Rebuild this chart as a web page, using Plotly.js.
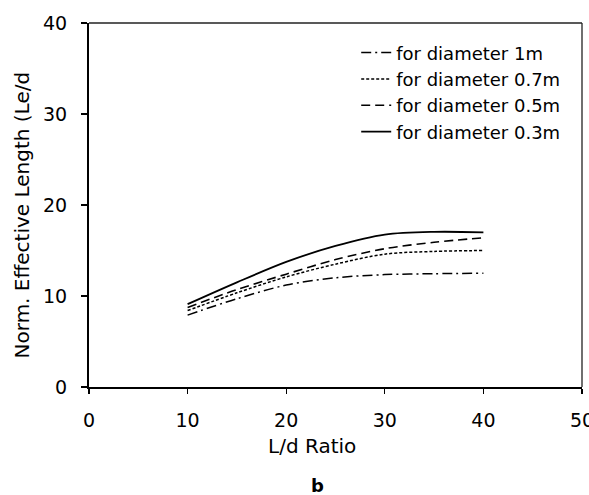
<!DOCTYPE html>
<html>
<head>
<meta charset="utf-8">
<script src="https://cdn.plot.ly/plotly-3.0.1.min.js"></script>
<style>html,body{margin:0;padding:0;background:#fff;}#chart{width:589px;height:495px;}</style>
</head>
<body>
<div id="chart"></div>
<script>
var ldRatio = [10, 15, 20, 25, 30, 35, 40];
var d1m   = [7.9, 9.7, 11.2, 12.0, 12.35, 12.45, 12.5];
var d07m  = [8.4, 10.35, 12.1, 13.5, 14.6, 14.9, 15.0];
var d05m  = [8.75, 10.7, 12.4, 14.0, 15.2, 15.9, 16.4];
var d03m  = [9.1, 11.5, 13.75, 15.5, 16.75, 17.05, 17.0];
var seriesNames = ['for diameter 1m', 'for diameter 0.7m', 'for diameter 0.5m', 'for diameter 0.3m'];
var xTitle = 'L/d Ratio';
var yTitle = 'Norm. Effective Length (Le/d';
var panelLabel = 'b';

var F = 'DejaVu Sans, sans-serif';
var series = [d1m, d07m, d05m, d03m];
var dashes = ['10px,4px,2px,4px', '3px,2px', '9px,5px', 'solid'];
var widths = [1.5, 1.5, 1.6, 1.8];
var traces = series.map(function (s, i) {
  return {
    x: ldRatio, y: s, type: 'scatter', mode: 'lines', name: seriesNames[i],
    line: {color: '#000', width: widths[i], dash: dashes[i], shape: 'spline', smoothing: 0.9}
  };
});

var layout = {
  width: 589, height: 495,
  margin: {l: 89.3, r: 7.3, t: 23.3, b: 107.7},
  paper_bgcolor: '#fff', plot_bgcolor: '#fff',
  font: {family: F, size: 18, color: '#000'},
  showlegend: true,
  legend: {x: 0.542, y: 0.969, xanchor: 'left', yanchor: 'top', bgcolor: 'rgba(0,0,0,0)',
           font: {family: F, size: 18, color: '#000'}, traceorder: 'normal'},
  xaxis: {range: [0, 50], dtick: 10, tick0: 0, showgrid: false, zeroline: false,
          showline: true, linecolor: '#000', linewidth: 2,
          ticks: 'outside', ticklen: 5, tickwidth: 1.3, tickcolor: '#000',
          tickfont: {family: F, size: 19, color: '#000'}, ticklabelstandoff: 10,
          ticklabeloverflow: 'allow'},
  yaxis: {range: [0, 40], dtick: 10, tick0: 0, showgrid: false, zeroline: false,
          showline: true, linecolor: '#000', linewidth: 2,
          ticks: 'outside', ticklen: 6, tickwidth: 1.3, tickcolor: '#000',
          tickfont: {family: F, size: 19, color: '#000'}, ticklabelstandoff: 10},
  shapes: [
    {type: 'line', xref: 'paper', yref: 'paper', x0: 0, x1: 1, y0: 1, y1: 1, line: {color: '#222', width: 1.3}},
    {type: 'line', xref: 'paper', yref: 'paper', x0: 1, x1: 1, y0: 0, y1: 1, line: {color: '#222', width: 1.3}}
  ],
  annotations: [
    {text: xTitle, xref: 'paper', yref: 'paper', x: 0.4523, y: -0.161, xanchor: 'center', yanchor: 'middle',
     showarrow: false, font: {family: F, size: 20, color: '#000'}},
    {text: yTitle, xref: 'paper', yref: 'paper', x: -0.1367, y: 0.473, xanchor: 'center', yanchor: 'middle',
     textangle: -90, showarrow: false, font: {family: F, size: 20, color: '#000'}},
    {text: '<b>' + panelLabel + '</b>', xref: 'paper', yref: 'paper', x: 0.4645, y: -0.27, xanchor: 'center', yanchor: 'middle',
     showarrow: false, font: {family: F, size: 18, color: '#000'}}
  ]
};

Plotly.newPlot('chart', traces, layout, {displayModeBar: false, staticPlot: true});
</script>
</body>
</html>
